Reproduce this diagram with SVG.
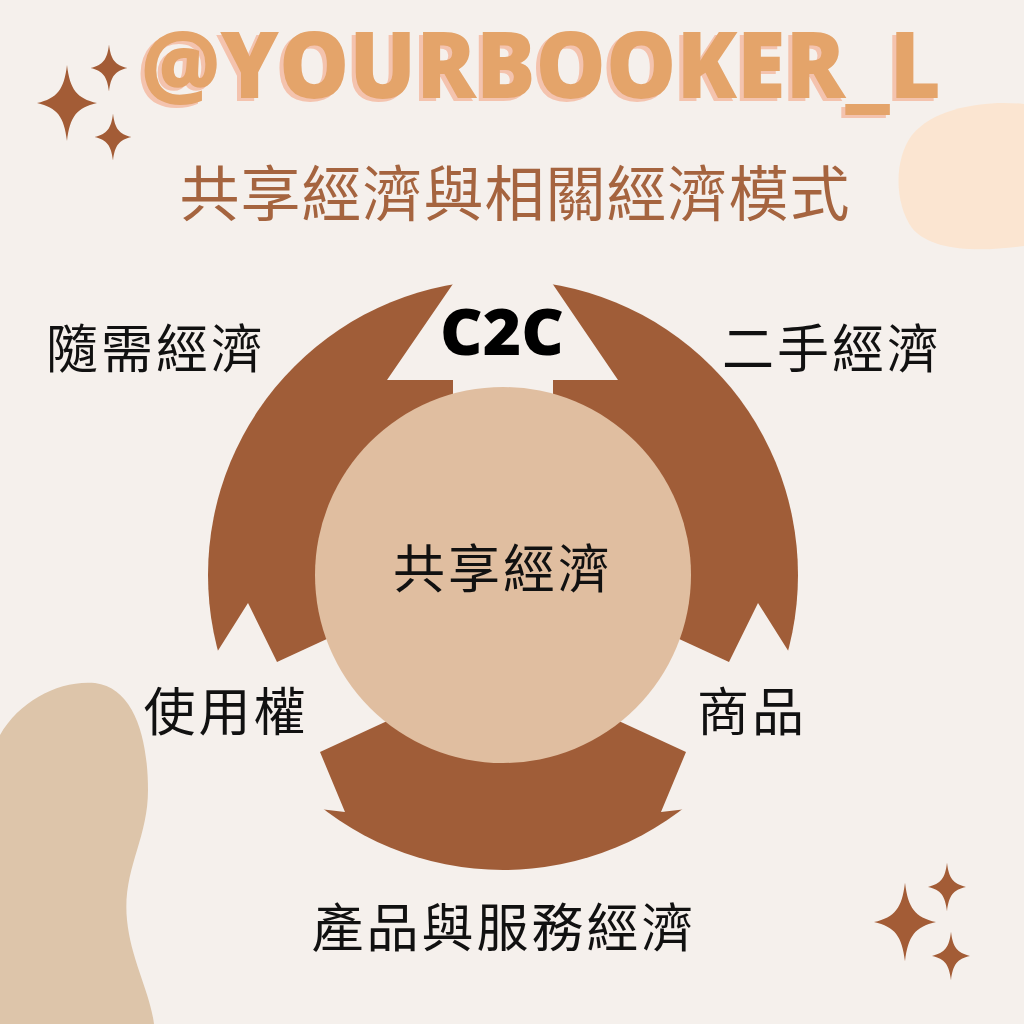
<svg xmlns="http://www.w3.org/2000/svg" xmlns:xlink="http://www.w3.org/1999/xlink" width="1024" height="1024" viewBox="0 0 1024 1024">
  <style>
    .cjk { font-family: "Noto Sans CJK TC", "Noto Sans CJK SC", sans-serif; }
    .label { font-size: 52px; fill: #111111; text-anchor: middle; letter-spacing: 3px; }
    .title { font-family: "Open Sans", "DejaVu Sans", sans-serif; font-weight: 800; font-size: 92px; }
    .spark { fill: #A35C36; }
  </style>
  <defs>
    <path id="spark" d="M0,-1.27 C0.1,-0.45 0.32,-0.16 1,0 C0.32,0.16 0.1,0.45 0,1.27 C-0.1,0.45 -0.32,0.16 -1,0 C-0.32,-0.16 -0.1,-0.45 0,-1.27 Z"/>
    <filter id="titleShadow" x="-5%" y="-20%" width="110%" height="140%">
      <feOffset in="SourceAlpha" dx="-4" dy="3" result="off"/>
      <feFlood flood-color="#F4C3AE" result="col"/>
      <feComposite in="col" in2="off" operator="in" result="shadow"/>
      <feMerge>
        <feMergeNode in="shadow"/>
        <feMergeNode in="SourceGraphic"/>
      </feMerge>
    </filter>
    <mask id="ringMask" maskUnits="userSpaceOnUse" x="0" y="0" width="1024" height="1024">
      <rect x="0" y="0" width="1024" height="1024" fill="#ffffff"/>
      <polygon fill="#000000" points="453,500 453,380 387,380 503,211 618,380 553,380 553,500"/>
      <polygon fill="#000000" points="368,620 277,662 248,603 132,787 345,812 320,752 411,710"/>
      <polygon fill="#000000" points="638,620 729,662 758,603 874,787 661,812 686,752 595,710"/>
    </mask>
  </defs>

  <!-- background -->
  <rect x="0" y="0" width="1024" height="1024" fill="#F5F0EC"/>
  <path d="M1024,104 C990,100 935,106 912,135 C893,160 895,205 912,228 C932,252 980,252 1024,246 Z" fill="#FBE5D1"/>
  <path d="M0,735 C20,700 60,680 95,683 C135,688 148,740 148,790 C148,840 122,870 127,920 C131,960 150,992 154,1024 L0,1024 Z" fill="#DDC5AA"/>

  <!-- sparkles -->
  <g id="sparkles-top-left">
    <use href="#spark" class="spark" transform="translate(67,103) scale(30)"/>
    <use href="#spark" class="spark" transform="translate(109,68) scale(18.5)"/>
    <use href="#spark" class="spark" transform="translate(113,137) scale(18.5)"/>
  </g>
  <g id="sparkles-bottom-right">
    <use href="#spark" class="spark" transform="translate(905,922) scale(31)"/>
    <use href="#spark" class="spark" transform="translate(947,887) scale(19)"/>
    <use href="#spark" class="spark" transform="translate(951,956) scale(19)"/>
  </g>

  <!-- title -->
  <g id="title">
    <text class="title" x="141" y="98" textLength="800" lengthAdjust="spacingAndGlyphs" fill="#E4A46A" filter="url(#titleShadow)">@YOURBOOKER_L</text>
  </g>
  <g id="subtitle">
    <text class="cjk" x="515" y="216" font-size="60" fill="#A5643F" text-anchor="middle" letter-spacing="1">共享經濟與相關經濟模式</text>
  </g>

  <!-- cycle arrows (connectors) -->
  <g id="connectors">
    <circle cx="503" cy="575" r="295" fill="#A05D38" mask="url(#ringMask)"/>
  </g>

  <!-- center node -->
  <g id="node-sharing-economy">
    <circle cx="503" cy="575" r="188" fill="#E0BEA0"/>
    <text class="cjk label" x="503" y="588" font-size="54">共享經濟</text>
  </g>

  <g id="node-c2c">
    <text x="502" y="355" font-family="'Open Sans', 'DejaVu Sans', sans-serif" font-weight="800" font-size="64" fill="#000000" text-anchor="middle" textLength="124" lengthAdjust="spacingAndGlyphs">C2C</text>
  </g>

  <g id="node-on-demand">
    <text class="cjk label" x="156" y="368">隨需經濟</text>
  </g>
  <g id="node-second-hand">
    <text class="cjk label" x="832" y="368">二手經濟</text>
  </g>
  <g id="node-usage-right">
    <text class="cjk label" x="226" y="731">使用權</text>
  </g>
  <g id="node-goods">
    <text class="cjk label" x="752" y="731">商品</text>
  </g>
  <g id="node-product-service">
    <text class="cjk label" x="504" y="947">產品與服務經濟</text>
  </g>
</svg>
